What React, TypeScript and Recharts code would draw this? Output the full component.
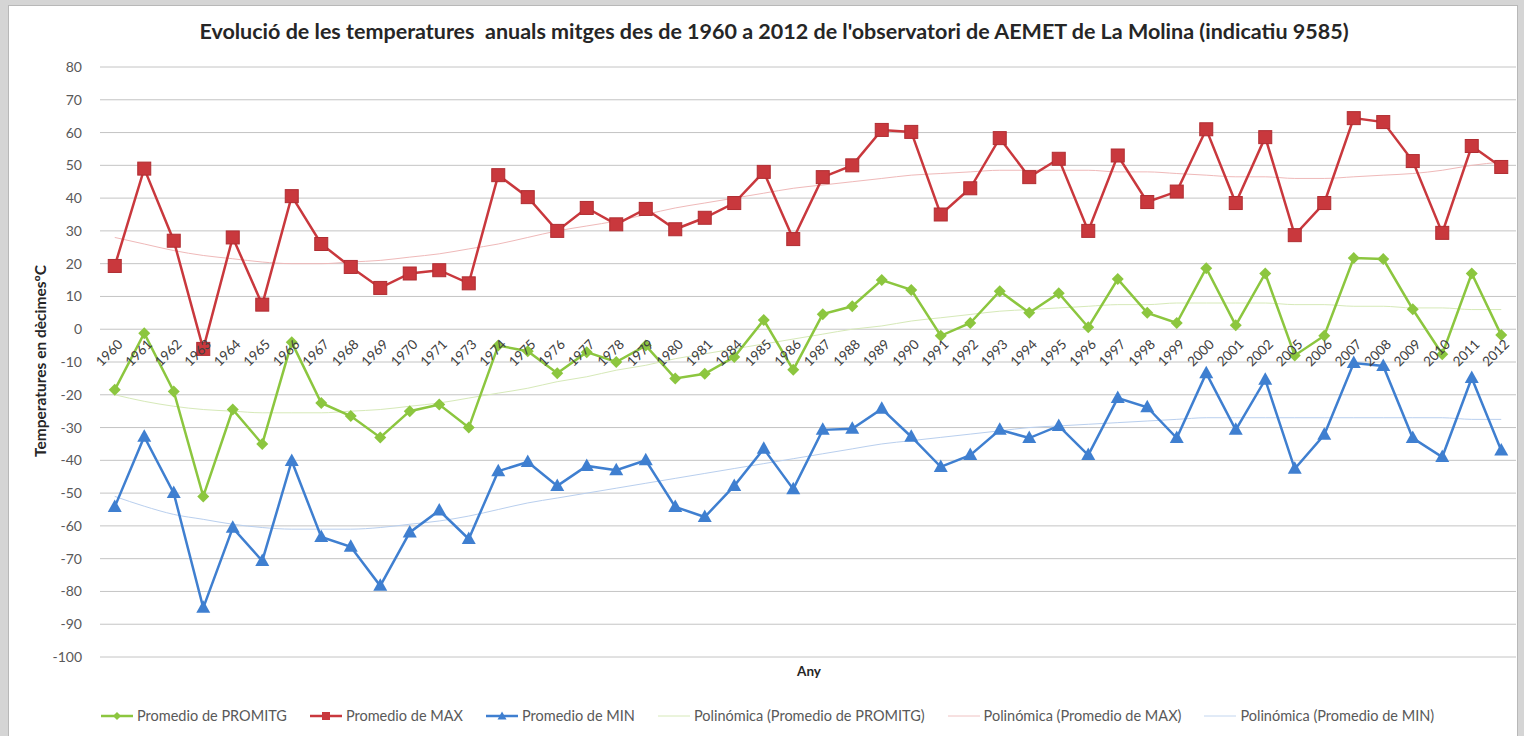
import React from 'react';
import { LineChart, Line, XAxis, YAxis, CartesianGrid } from 'recharts';

const years = [
  '1960', '1961', '1962', '1963', '1964', '1965', '1966', '1967', '1968', '1969', '1970', '1971',
  '1973', '1974', '1975', '1976', '1977', '1978', '1979', '1980', '1981',
  '1984', '1985', '1986', '1987', '1988', '1989', '1990', '1991', '1992', '1993', '1994', '1995',
  '1996', '1997', '1998', '1999', '2000', '2001', '2002',
  '2005', '2006', '2007', '2008', '2009', '2010', '2011', '2012',
];

const promitg = [
  -18.5, -1.2, -19, -51, -24.5, -35, -4, -22.5, -26.5, -33, -25, -23,
  -30, -5, -6.7, -13.4, -7, -10, -5, -15, -13.6,
  -8.5, 2.8, -12.4, 4.6, 7, 15, 12, -2, 1.9, 11.6, 5, 11,
  0.6, 15.3, 5, 1.9, 18.6, 1.2, 17,
  -8, -2, 21.7, 21.4, 6.1, -7.6, 17, -1.8,
];

const maxValues = [
  19.3, 49, 27, -6, 28, 7.5, 40.6, 26, 19, 12.6, 17, 18,
  14, 47, 40.3, 30, 37, 32, 36.7, 30.5, 34,
  38.5, 48, 27.5, 46.4, 50, 60.8, 60.2, 35, 43, 58.3, 46.4, 52,
  30, 53, 38.8, 42, 61, 38.5, 58.6,
  28.7, 38.5, 64.4, 63.2, 51.3, 29.4, 55.9, 49.5,
];

const minValues = [
  -54.2, -32.8, -50, -85, -60.6, -70.7, -40.2, -63.4, -66.4, -78.3, -62, -55.3,
  -64, -43.3, -40.5, -47.8, -41.7, -43, -40, -54.2, -57.3,
  -47.8, -36.5, -48.8, -30.7, -30.4, -24.3, -32.8, -42, -38.4, -30.7, -33.2, -29.5,
  -38.4, -21, -23.8, -33.2, -13.4, -30.7, -15.4,
  -42.6, -32.2, -10.3, -11.2, -33.2, -39, -14.9, -37,
];

// línies de tendència polinòmica, llegides del gràfic
const trendPromitg = [
  -20, -22, -23.5, -24.5, -25, -25.5, -25.5, -25.5, -25, -24.5, -23.5, -22.5,
  -21, -19.5, -18, -16, -14.5, -12.5, -11, -9, -7.5,
  -6, -4.5, -3, -1.5, 0, 1, 2.5, 3.5, 4.5, 5.5, 6, 6.5,
  7, 7.5, 7.5, 8, 8, 8, 8,
  7.5, 7.5, 7, 7, 6.5, 6.5, 6, 6,
];

const trendMax = [
  28, 26, 24, 22.5, 21.5, 20.5, 20, 20, 20.5, 21, 22, 23,
  24.5, 26, 28, 30, 31.5, 33, 35, 37, 38.5,
  40, 41.5, 43, 44, 45, 46, 47, 47.5, 48, 48.5, 48.5, 48.5,
  48.5, 48, 48, 47.5, 47, 46.5, 46.5,
  46, 46, 46.5, 47, 47.5, 48.5, 50, 51,
];

const trendMin = [
  -51, -54, -56.5, -58, -59.5, -60.5, -61, -61, -61, -60.5, -59.5, -58.5,
  -57, -55, -53, -51.5, -50, -48.5, -47, -45.5, -44,
  -42.5, -41, -39.5, -38, -36.5, -35, -34, -33, -32, -31, -30, -29.5,
  -29, -28.5, -28, -27.5, -27, -27, -27,
  -27, -27, -27, -27, -27, -27, -27.5, -27.5,
];

const yTicks = [80, 70, 60, 50, 40, 30, 20, 10, 0, -10, -20, -30, -40, -50, -60, -70, -80, -90, -100];

const RED = '#c9383d';
const GREEN = '#8cc63f';
const BLUE = '#3f7fd0';
const FONT = 'Lato, "Open Sans", sans-serif';

const W = 1524;
const H = 736;
const PLOT_TOP = 67;
const PLOT_BOTTOM = 657;
const X_AXIS_H = 20;
const Y_MIN = -100;
const Y_MAX = 80;
const ZERO_Y = PLOT_TOP + ((PLOT_BOTTOM - PLOT_TOP) * Y_MAX) / (Y_MAX - Y_MIN);

const data = years.map((year, i) => ({
  year,
  promitg: promitg[i],
  max: maxValues[i],
  min: minValues[i],
  tPromitg: trendPromitg[i],
  tMax: trendMax[i],
  tMin: trendMin[i],
}));

// les etiquetes d'any van sobre la línia del zero, com a l'Excel
const YearTick = (props: any) => {
  const { x, payload } = props;
  if (x == null || !payload) return null;
  return (
    <g transform={`translate(${x + 2},${ZERO_Y + 9}) rotate(-45)`}>
      <text x={0} y={0} dy="0.72em" textAnchor="end" fontSize={13.5} fill="#404040" fontFamily={FONT}>
        {payload.value}
      </text>
    </g>
  );
};

const squareDot = (props: any) => {
  const { cx, cy, index } = props;
  if (cx == null || cy == null) return <g key={`s${index}`} />;
  return <rect key={`s${index}`} x={cx - 6.5} y={cy - 6.5} width={13} height={13} fill={RED} stroke="#b02d32" strokeWidth={1} />;
};

const diamondDot = (props: any) => {
  const { cx, cy, index } = props;
  if (cx == null || cy == null) return <g key={`d${index}`} />;
  return <path key={`d${index}`} d={`M${cx},${cy - 6} L${cx + 6},${cy} L${cx},${cy + 6} L${cx - 6},${cy} Z`} fill={GREEN} />;
};

const triangleDot = (props: any) => {
  const { cx, cy, index } = props;
  if (cx == null || cy == null) return <g key={`t${index}`} />;
  return <path key={`t${index}`} d={`M${cx},${cy - 7.5} L${cx + 7},${cy + 5} L${cx - 7},${cy + 5} Z`} fill={BLUE} />;
};

const legendItems = [
  { label: 'Promedio de PROMITG', color: GREEN, marker: 'diamond' },
  { label: 'Promedio de MAX', color: RED, marker: 'square' },
  { label: 'Promedio de MIN', color: BLUE, marker: 'triangle' },
  { label: 'Polinómica (Promedio de PROMITG)', color: '#d6e9b8', marker: 'none' },
  { label: 'Polinómica (Promedio de MAX)', color: '#efc2c2', marker: 'none' },
  { label: 'Polinómica (Promedio de MIN)', color: '#c3d6ef', marker: 'none' },
];

const LegendIcon = ({ color, marker }: { color: string; marker: string }) => (
  <svg width={34} height={12} style={{ marginRight: 3 }}>
    <line x1={1} y1={6} x2={33} y2={6} stroke={color} strokeWidth={marker === 'none' ? 1 : 2.5} />
    {marker === 'diamond' && <path d="M17,2 L21,6 L17,10 L13,6 Z" fill={color} />}
    {marker === 'square' && <rect x={13} y={2} width={8} height={8} fill={color} />}
    {marker === 'triangle' && <path d="M17,1.5 L21.5,9.5 L12.5,9.5 Z" fill={color} />}
  </svg>
);

export default function App() {
  return (
    <div style={{ position: 'absolute', left: 0, top: 0, width: W, height: H, background: '#d5d5d5', overflow: 'hidden' }}>
      <div
        style={{
          position: 'absolute',
          left: 8,
          top: 5,
          width: 1508,
          height: 740,
          background: '#ffffff',
          border: '1px solid #b8b8b8',
        }}
      />
      <div
        style={{
          position: 'absolute',
          left: 0,
          top: 18,
          width: 1548,
          textAlign: 'center',
          fontFamily: FONT,
          fontWeight: 700,
          fontSize: 21.5,
          color: '#262626',
          whiteSpace: 'pre',
        }}
      >
        {"Evolució de les temperatures  anuals mitges des de 1960 a 2012 de l'observatori de AEMET de La Molina (indicatiu 9585)"}
      </div>
      <div
        style={{
          position: 'absolute',
          left: 40,
          top: 361,
          transform: 'translate(-50%, -50%) rotate(-90deg)',
          fontFamily: FONT,
          fontWeight: 700,
          fontSize: 15.5,
          color: '#262626',
          whiteSpace: 'nowrap',
        }}
      >
        Temperatures en dècimesºC
      </div>
      <div
        style={{
          position: 'absolute',
          left: 809,
          top: 671,
          transform: 'translate(-50%, -50%)',
          fontFamily: FONT,
          fontWeight: 700,
          fontSize: 13.5,
          color: '#262626',
        }}
      >
        Any
      </div>
      <div style={{ position: 'absolute', left: 0, top: 0 }}>
        <LineChart
          width={W}
          height={H}
          data={data}
          margin={{ top: PLOT_TOP, right: 8, bottom: H - PLOT_BOTTOM - X_AXIS_H, left: 30 }}
        >
          <CartesianGrid vertical={false} stroke="#c4c4c4" strokeWidth={1} />
          <XAxis
            dataKey="year"
            height={X_AXIS_H}
            axisLine={false}
            tickLine={false}
            interval={0}
            padding={{ left: 14.75, right: 14.75 }}
            tick={<YearTick />}
          />
          <YAxis
            width={70}
            domain={[Y_MIN, Y_MAX]}
            ticks={yTicks}
            axisLine={false}
            tickLine={false}
            tickMargin={12}
            tick={{ fontSize: 14, fill: '#595959', fontFamily: FONT }}
          />
          <Line dataKey="tPromitg" type="monotone" stroke="#d6e9b8" strokeWidth={1} dot={false} isAnimationActive={false} />
          <Line dataKey="tMax" type="monotone" stroke="#efb9b9" strokeWidth={1} dot={false} isAnimationActive={false} />
          <Line dataKey="tMin" type="monotone" stroke="#b9cfee" strokeWidth={1} dot={false} isAnimationActive={false} />
          <Line dataKey="promitg" type="linear" stroke={GREEN} strokeWidth={2.5} dot={diamondDot} isAnimationActive={false} />
          <Line dataKey="max" type="linear" stroke={RED} strokeWidth={2.5} dot={squareDot} isAnimationActive={false} />
          <Line dataKey="min" type="linear" stroke={BLUE} strokeWidth={2.5} dot={triangleDot} isAnimationActive={false} />
        </LineChart>
      </div>
      <div
        style={{
          position: 'absolute',
          left: 100,
          top: 707,
          display: 'flex',
          alignItems: 'center',
          fontFamily: FONT,
          fontSize: 14.5,
          color: '#595959',
          whiteSpace: 'nowrap',
        }}
      >
        {legendItems.map((it) => (
          <div key={it.label} style={{ display: 'flex', alignItems: 'center', marginRight: 22 }}>
            <LegendIcon color={it.color} marker={it.marker} />
            <span>{it.label}</span>
          </div>
        ))}
      </div>
    </div>
  );
}
